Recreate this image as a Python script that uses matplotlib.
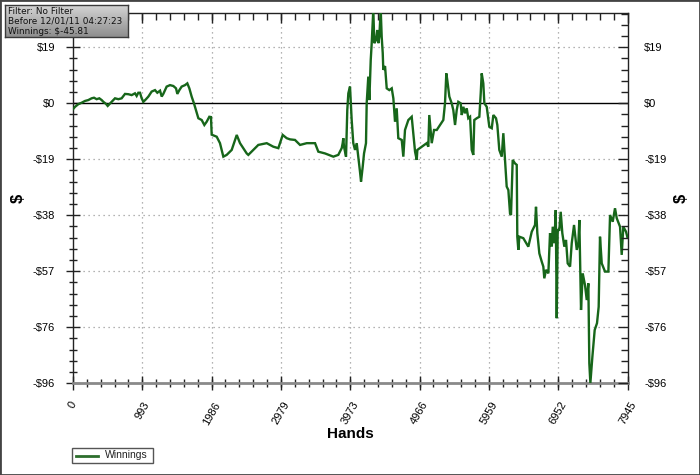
import matplotlib
matplotlib.use("Agg")
import matplotlib.pyplot as plt
import numpy as np
from matplotlib.patches import Rectangle
from matplotlib.lines import Line2D
from matplotlib.ticker import FixedLocator, MultipleLocator
from matplotlib.colors import LinearSegmentedColormap

# ---------------- data ----------------
hands = [
    0, 29, 76, 124, 172, 219, 267, 301, 339, 377, 411, 435, 473, 497, 521, 554, 602, 650, 697,
    745, 793, 841, 888, 912, 936, 960, 984, 1008, 1046, 1080, 1127, 1175, 1208, 1247, 1271, 1294,
    1342, 1390, 1438, 1476, 1495, 1524, 1557, 1605, 1638, 1667, 1700, 1733, 1762, 1796, 1844, 1882,
    1915, 1953, 1977, 1987, 2059, 2106, 2154, 2202, 2274, 2346, 2393, 2489, 2512, 2584, 2655, 2776,
    2870, 2942, 3005, 3062, 3109, 3181, 3253, 3349, 3468, 3515, 3611, 3730, 3801, 3850, 3864, 3873,
    3883, 3912, 3930, 3945, 3969, 3979, 3993, 4016, 4041, 4065, 4088, 4112, 4127, 4151, 4170, 4198,
    4208, 4231, 4246, 4266, 4280, 4294, 4303, 4317, 4342, 4360, 4375, 4389, 4409, 4423, 4438, 4446,
    4471, 4495, 4532, 4567, 4590, 4614, 4638, 4661, 4710, 4733, 4757, 4805, 4853, 4876, 4901, 4925,
    4934, 4997, 5068, 5091, 5105, 5140, 5173, 5212, 5259, 5306, 5330, 5349, 5363, 5392, 5426, 5449,
    5474, 5498, 5521, 5555, 5570, 5593, 5617, 5641, 5664, 5689, 5713, 5736, 5750, 5785, 5822, 5842,
    5856, 5879, 5894, 5928, 5965, 6000, 6023, 6061, 6080, 6108, 6143, 6166, 6190, 6214, 6238, 6262,
    6276, 6300, 6333, 6358, 6366, 6381, 6395, 6452, 6524, 6573, 6620, 6634, 6653, 6682, 6716, 6739,
    6753, 6778, 6811, 6835, 6860, 6874, 6897, 6917, 6931, 6945, 6968, 6988, 7011, 7040, 7064, 7088,
    7122, 7146, 7179, 7218, 7241, 7255, 7279, 7303, 7336, 7361, 7384, 7398, 7413, 7442, 7475, 7508,
    7532, 7551, 7576, 7623, 7671, 7695, 7733, 7766, 7791, 7838, 7862, 7885, 7924, 7945,
]
winnings = [
    -2.0, -1.2, -0.3, 0.2, 0.8, 1.1, 1.7, 1.9, 1.4, 1.7, 1.1, 0.5, -0.2, -0.9, -0.3, 0.5, 1.7, 1.4, 1.7,
    3.2, 3.1, 2.8, 3.4, 2.5, 3.6, 3.6, 1.7, 0.5, 1.4, 2.3, 4.0, 4.5, 3.6, 4.3, 2.3, 3.2,
    5.7, 6.2, 5.9, 5.1, 3.2, 4.5, 5.7, 6.2, 6.8, 5.1, 2.3, 0.0, -2.3, -5.1, -5.7, -7.4,
    -6.3, -4.6, -4.7, -10.7, -11.4, -13.6, -18.2, -17.6, -15.9, -10.8, -13.6, -17.1, -17.6, -15.9, -14.2, -13.6,
    -14.8, -15.3, -10.8, -11.9, -12.3, -12.5, -14.2, -13.6, -13.6, -16.5, -17.1, -18.2, -17.6, -15.3, -13.6, -11.9,
    -14.8, -18.2, -2.3, 3.4, 5.7, 1.1, -5.7, -13.6, -15.9, -13.6, -18.2, -23.3, -26.7, -21.6, -17.1, -13.6,
    0.0, 9.1, 1.1, 14.8, 20.5, 27.3, 32.0, 20.5, 21.6, 25.0, 20.5, 22.7, 32.0, 22.7, 17.1, 11.4,
    12.7, 5.1, 4.5, 5.1, 1.7, -6.3, -1.7, -11.9, -12.5, -18.2, -9.1, -5.7, -4.6, -10.2, -16.5, -19.3,
    -15.9, -14.8, -13.6, -14.8, -4.0, -13.6, -9.1, -9.1, -7.4, -5.7, 0.0, 10.2, 7.9, 2.3, 0.0, -2.3,
    -7.4, -2.3, 0.5, 0.0, -4.0, -1.2, -3.4, -1.7, -5.1, -4.6, -15.9, -17.6, -5.7, -5.1, -4.6, 3.4,
    10.2, 6.8, 0.0, -1.2, -8.0, -8.5, -4.0, -5.1, -7.4, -15.9, -18.2, -10.2, -19.3, -28.4, -29.6, -37.6,
    -38.1, -19.3, -20.5, -21.0, -45.5, -50.0, -45.5, -46.0, -48.9, -43.8, -41.5, -35.3, -44.3, -51.2, -54.0, -55.7,
    -59.7, -56.8, -58.0, -44.3, -48.9, -42.1, -47.7, -36.4, -73.3, -43.2, -43.2, -37.0, -44.3, -48.9, -46.6, -54.6,
    -55.7, -47.7, -41.5, -50.0, -47.7, -39.8, -70.5, -58.0, -62.0, -67.1, -61.4, -88.7, -95.4, -86.4, -77.3, -75.0,
    -69.4, -45.5, -54.6, -57.4, -57.4, -38.1, -40.4, -35.8, -39.2, -42.1, -51.7, -42.1, -43.8, -45.81,
]

x_ticks = [0, 993, 1986, 2979, 3973, 4966, 5959, 6952, 7945]
y_ticks = [-95.5, -76.4, -57.3, -38.2, -19.1, 0.0, 19.1]
y_tick_labels = ["-$96", "-$76", "-$57", "-$38", "-$19", "$0", "$19"]
x_range = (0, 7945)
y_range = (-95.5, 30.9)

filter_lines = ["Filter: No Filter", "Before 12/01/11 04:27:23", "Winnings: $-45.81"]
series_name = "Winnings"

# ---------------- figure ----------------
W, H = 700, 475
fig = plt.figure(figsize=(W / 100, H / 100), dpi=100)
fig.patch.set_facecolor("white")

def fx(px):
    return px / W

def fy(py):
    return 1 - py / H

L, R, T, B = 73, 627.5, 12.7, 383.3
pos = [fx(L), fy(B), fx(R) - fx(L), fy(T) - fy(B)]
ax = fig.add_axes(pos)
ax.set_xlim(*x_range)
ax.set_ylim(*y_range)

green = "#17661a"
ax.plot(hands, winnings, color=green, lw=1.7, solid_joinstyle="miter", zorder=3)
ax.axhline(0, color="black", lw=1.0, zorder=2)

# grid
for xv in x_ticks[1:-1]:
    ax.axvline(xv, color="#9a9a9a", lw=0.9, ls=(0, (1, 3)), zorder=1)
for yv in y_ticks[1:]:
    if yv != 0:
        ax.axhline(yv, color="#9a9a9a", lw=0.9, ls=(0, (1, 3)), zorder=1)

# spines
for s in ["left", "right", "top"]:
    ax.spines[s].set_color("#222222")
    ax.spines[s].set_linewidth(1.0)
ax.spines["bottom"].set_color("#8a8a8a")
ax.spines["bottom"].set_linewidth(2.0)

lab_font = "Liberation Sans"
ax.xaxis.set_major_locator(FixedLocator(x_ticks))
ax.xaxis.set_minor_locator(MultipleLocator(7945 / 40))
ax.yaxis.set_major_locator(FixedLocator(y_ticks))
ax.yaxis.set_minor_locator(MultipleLocator(19.1 / 5))
ax.set_yticklabels(y_tick_labels, fontsize=8, family=lab_font)
ax.set_xticklabels([str(v) for v in x_ticks], fontsize=8, family=lab_font,
                   rotation=60, ha="center", va="top")
ax.tick_params(axis="both", which="major", direction="inout", length=10, width=1,
               color="#222222", top=False, right=False)
ax.tick_params(axis="both", which="minor", direction="inout", length=6, width=1,
               color="#222222", top=False, right=False)
ax.tick_params(axis="y", which="major", pad=8)
ax.tick_params(axis="x", which="major", pad=7)

# right / top inward ticks
ax2 = fig.add_axes(pos, frameon=False)
ax2.set_xlim(*x_range)
ax2.set_ylim(*y_range)
ax2.patch.set_visible(False)
ax2.xaxis.set_major_locator(FixedLocator(x_ticks))
ax2.xaxis.set_minor_locator(MultipleLocator(7945 / 40))
ax2.yaxis.set_major_locator(FixedLocator(y_ticks))
ax2.yaxis.set_minor_locator(MultipleLocator(19.1 / 5))
ax2.yaxis.tick_right()
ax2.xaxis.tick_top()
ax2.set_yticklabels(y_tick_labels, fontsize=8, family=lab_font)
ax2.tick_params(axis="both", which="major", direction="in", length=7, width=1,
                color="#222222", labeltop=False, labelright=True, pad=12)
ax2.tick_params(axis="both", which="minor", direction="in", length=5, width=1,
                color="#222222")

# axis titles
fig.text(fx(18), fy(198), "$", rotation=90, fontsize=12, fontweight="bold",
         family=lab_font, ha="center", va="center")
fig.text(fx(681), fy(198), "$", rotation=90, fontsize=12, fontweight="bold",
         family=lab_font, ha="center", va="center")
fig.text(fx(350), fy(434), "Hands", fontsize=11, fontweight="bold",
         family=lab_font, ha="center", va="center")

# legend box
fig.add_artist(Rectangle((fx(72), fy(463)), fx(153) - fx(72), fy(448) - fy(463),
                         transform=fig.transFigure, facecolor="white",
                         edgecolor="#555555", lw=1.0))
fig.add_artist(Line2D([fx(76), fx(98)], [fy(455.5), fy(455.5)], transform=fig.transFigure,
                      color="#2d6e2d", lw=2))
fig.text(fx(105), fy(455.5), series_name, fontsize=7.5, family=lab_font,
         ha="left", va="center", color="#222222")

# filter info box with gradient
bx0, by0, bx1, by1 = 5, 5, 128, 37
bax = fig.add_axes([fx(bx0), fy(by1), fx(bx1) - fx(bx0), fy(by0) - fy(by1)])
grad = np.linspace(0, 1, 64).reshape(-1, 1)
cmap = LinearSegmentedColormap.from_list("g", ["#d4d4d4", "#8e8e8e"])
bax.imshow(grad, aspect="auto", cmap=cmap, extent=[0, 1, 0, 1], origin="upper")
bax.set_xlim(0, 1)
bax.set_ylim(0, 1)
bax.set_xticks([])
bax.set_yticks([])
for s in bax.spines.values():
    s.set_color("#3a3a3a")
    s.set_linewidth(1.0)
for i, t in enumerate(filter_lines):
    bax.text(0.025, 1 - (6 + i * 10.3) / 32, t, fontsize=6.4, family="DejaVu Sans",
             ha="left", va="center", color="#111111")

# outer border
fig.add_artist(Rectangle((0, 0), 1, 1, transform=fig.transFigure, fill=False,
                         edgecolor="#444444", lw=2.0))

fig.savefig("out.png", dpi=100)
